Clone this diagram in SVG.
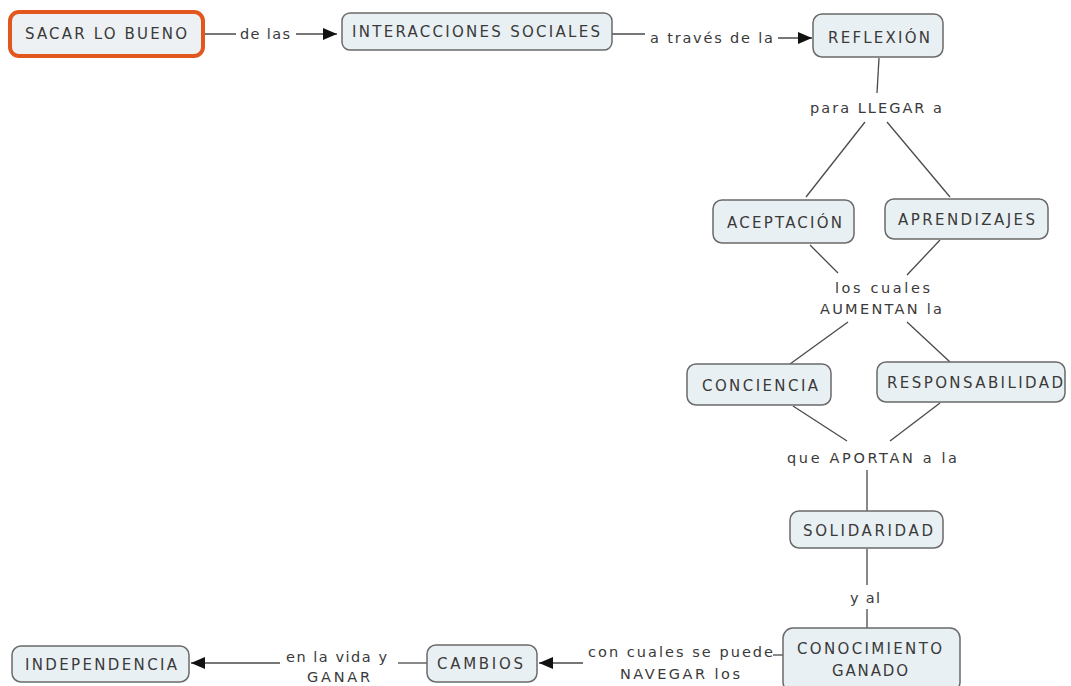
<svg xmlns="http://www.w3.org/2000/svg" width="1071" height="686" viewBox="0 0 1071 686">
<style>
.box{fill:#e9f0f3;stroke:#6a6a6a;stroke-width:1.5}
.main{fill:#edf1f3;stroke:#e2571e;stroke-width:4}
.nt{font-family:"DejaVu Sans",sans-serif;font-size:15px;fill:#3a3a3a}
.lt{font-family:"DejaVu Sans",sans-serif;font-size:14.5px;fill:#3a3a3a}
.c{stroke:#4a4a4a;stroke-width:1.3;fill:none}
</style>
<defs>
<marker id="arr" markerUnits="userSpaceOnUse" markerWidth="14" markerHeight="12" refX="14" refY="6" orient="auto">
<path d="M0,0 L14,6 L0,12 z" fill="#111"/>
</marker>
</defs>
<rect width="1071" height="686" fill="#fff"/>
<g id="connectors">
<line class="c" x1="203" y1="34" x2="236" y2="34"/>
<line class="c" x1="296" y1="34" x2="337" y2="34" marker-end="url(#arr)"/>
<line class="c" x1="612" y1="34" x2="645" y2="34"/>
<line class="c" x1="778" y1="38" x2="812" y2="38" marker-end="url(#arr)"/>
<line class="c" x1="879" y1="58" x2="877" y2="93"/>
<line class="c" x1="865" y1="122" x2="806" y2="197"/>
<line class="c" x1="887" y1="122" x2="950" y2="197"/>
<line class="c" x1="810" y1="245" x2="838" y2="273"/>
<line class="c" x1="940" y1="240" x2="907" y2="275"/>
<line class="c" x1="848" y1="322" x2="790" y2="364"/>
<line class="c" x1="907" y1="322" x2="950" y2="362"/>
<line class="c" x1="793" y1="406" x2="847" y2="441"/>
<line class="c" x1="940" y1="403" x2="890" y2="441"/>
<line class="c" x1="867" y1="470" x2="867" y2="511"/>
<line class="c" x1="867" y1="549" x2="867" y2="585"/>
<line class="c" x1="867" y1="609" x2="867" y2="628"/>
<line class="c" x1="783" y1="655" x2="773" y2="655"/>
<line class="c" x1="583" y1="663" x2="539" y2="663" marker-end="url(#arr)"/>
<line class="c" x1="427" y1="663" x2="398" y2="663"/>
<line class="c" x1="280" y1="663" x2="191" y2="663" marker-end="url(#arr)"/>
</g>
<g id="labels">
<text class="lt" x="240" y="39" textLength="50" lengthAdjust="spacing">de las</text>
<text class="lt" x="650" y="43" textLength="123" lengthAdjust="spacing">a través de la</text>
<text class="lt" x="810" y="113" textLength="132" lengthAdjust="spacing">para LLEGAR a</text>
<text class="lt" x="835" y="293" textLength="95" lengthAdjust="spacing">los cuales</text>
<text class="lt" x="820" y="314" textLength="122" lengthAdjust="spacing">AUMENTAN la</text>
<text class="lt" x="787" y="463" textLength="170" lengthAdjust="spacing">que APORTAN a la</text>
<text class="lt" x="850" y="603" textLength="30" lengthAdjust="spacing">y al</text>
<text class="lt" x="588" y="657" textLength="185" lengthAdjust="spacing">con cuales se puede</text>
<text class="lt" x="620" y="679" textLength="120" lengthAdjust="spacing">NAVEGAR los</text>
<text class="lt" x="286" y="662" textLength="101" lengthAdjust="spacing">en la vida y</text>
<text class="lt" x="307" y="682" textLength="63" lengthAdjust="spacing">GANAR</text>
</g>
<g id="n-sacar"><rect class="main" x="10" y="12" width="193" height="44" rx="9"/><text class="nt" x="25" y="39" textLength="162" lengthAdjust="spacing">SACAR LO BUENO</text></g>
<g id="n-interacciones"><rect class="box" x="342" y="13" width="270" height="37" rx="8"/><text class="nt" x="352" y="37" textLength="248" lengthAdjust="spacing">INTERACCIONES SOCIALES</text></g>
<g id="n-reflexion"><rect class="box" x="813" y="14" width="130" height="43" rx="9"/><text class="nt" x="828" y="43" textLength="102" lengthAdjust="spacing">REFLEXIÓN</text></g>
<g id="n-aceptacion"><rect class="box" x="713" y="200" width="141" height="43" rx="9"/><text class="nt" x="727" y="228" textLength="115" lengthAdjust="spacing">ACEPTACIÓN</text></g>
<g id="n-aprendizajes"><rect class="box" x="885" y="199" width="163" height="40" rx="9"/><text class="nt" x="898" y="225" textLength="137" lengthAdjust="spacing">APRENDIZAJES</text></g>
<g id="n-conciencia"><rect class="box" x="687" y="364" width="144" height="41" rx="9"/><text class="nt" x="702" y="391" textLength="116" lengthAdjust="spacing">CONCIENCIA</text></g>
<g id="n-responsabilidad"><rect class="box" x="877" y="362" width="188" height="40" rx="9"/><text class="nt" x="887" y="388" textLength="176" lengthAdjust="spacing">RESPONSABILIDAD</text></g>
<g id="n-solidaridad"><rect class="box" x="790" y="511" width="153" height="37" rx="9"/><text class="nt" x="803" y="536" textLength="130" lengthAdjust="spacing">SOLIDARIDAD</text></g>
<g id="n-conocimiento"><rect class="box" x="783" y="628" width="177" height="64" rx="10"/><text class="nt" x="797" y="654" textLength="145" lengthAdjust="spacing">CONOCIMIENTO</text><text class="nt" x="832" y="676" textLength="76" lengthAdjust="spacing">GANADO</text></g>
<g id="n-cambios"><rect class="box" x="427" y="645" width="110" height="37" rx="9"/><text class="nt" x="437" y="669" textLength="86" lengthAdjust="spacing">CAMBIOS</text></g>
<g id="n-independencia"><rect class="box" x="12" y="646" width="177" height="36" rx="9"/><text class="nt" x="25" y="670" textLength="152" lengthAdjust="spacing">INDEPENDENCIA</text></g>
</svg>
